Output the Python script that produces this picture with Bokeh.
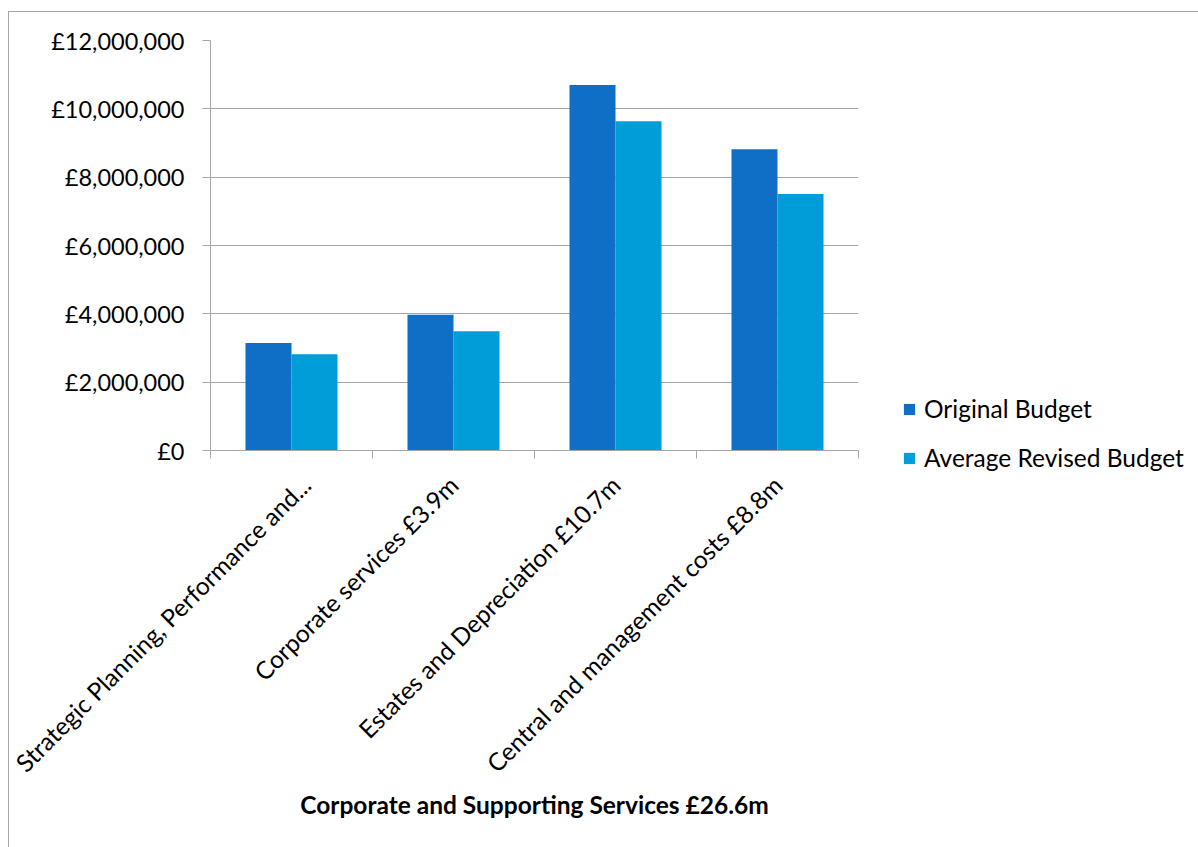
import math
from bokeh.plotting import figure
from bokeh.models import (ColumnDataSource, FixedTicker, CustomJSTickFormatter,
                          Range1d, Legend, LegendItem)
from bokeh.transform import dodge
from bokeh.embed import file_html
from bokeh.resources import INLINE

categories = ["Strategic Planning, Performance and...",
              "Corporate services £3.9m",
              "Estates and Depreciation £10.7m",
              "Central and management costs £8.8m"]
original_budget = [3150000, 3970000, 10700000, 8820000]
average_revised_budget = [2820000, 3490000, 9640000, 7510000]
y_ticks = [0, 2000000, 4000000, 6000000, 8000000, 10000000, 12000000]
series_names = ["Original Budget", "Average Revised Budget"]
series_colors = ["#0F6FC6", "#009DD9"]
x_title = "Corporate and Supporting Services £26.6m"

FONT = "Lato"
GRID = "#a6a6a6"

positions = [i + 0.5 for i in range(len(categories))]
src = ColumnDataSource(dict(x=positions, orig=original_budget, avg=average_revised_budget))

p = figure(frame_width=648, frame_height=410,
           x_range=Range1d(0, len(categories)), y_range=Range1d(0, y_ticks[-1]),
           output_backend="svg", toolbar_location=None,
           min_border_left=201, min_border_right=0,
           min_border_top=28, min_border_bottom=397,
           margin=(11, 0, 0, 8))
p.styles = {"border-left": "1px solid #a6a6a6", "border-top": "1px solid #a6a6a6"}
p.outline_line_color = None
p.background_fill_color = "white"

bw = 0.284
r1 = p.vbar(x=dodge("x", -bw / 2, range=p.x_range), top="orig", width=bw, bottom=0,
            source=src, fill_color=series_colors[0], line_color=None)
r2 = p.vbar(x=dodge("x", bw / 2, range=p.x_range), top="avg", width=bw, bottom=0,
            source=src, fill_color=series_colors[1], line_color=None)

# x axis
xa = p.xaxis[0]
xa.ticker = FixedTicker(ticks=positions, minor_ticks=list(range(len(categories) + 1)))
xa.formatter = CustomJSTickFormatter(args=dict(labels=categories),
                                     code="const s = labels[Math.floor(tick)]; return s === undefined ? '' : s;")
xa.major_tick_out = 0
xa.major_tick_in = 0
xa.minor_tick_out = 8
xa.minor_tick_in = 0
xa.minor_tick_line_color = GRID
xa.axis_line_color = GRID
xa.major_label_orientation = math.pi / 4
xa.major_label_text_font = FONT
xa.major_label_text_font_size = "24.5px"
xa.major_label_text_color = "black"
xa.major_label_standoff = 22
xa.axis_label = x_title
xa.axis_label_text_font = FONT
xa.axis_label_text_font_style = "bold"
xa.axis_label_text_font_size = "24.5px"
xa.axis_label_text_color = "black"
xa.axis_label_standoff = -1

# y axis
ya = p.yaxis[0]
ya.ticker = FixedTicker(ticks=y_ticks)
ya.formatter = CustomJSTickFormatter(
    code="return '£' + String(Math.round(tick)).replace(/\\B(?=(\\d{3})+(?!\\d))/g, ',');")
ya.major_tick_out = 8
ya.major_tick_in = 0
ya.minor_tick_line_color = None
ya.major_tick_line_color = GRID
ya.axis_line_color = GRID
ya.major_label_text_font = FONT
ya.major_label_text_font_size = "23.5px"
ya.major_label_text_color = "black"
ya.major_label_standoff = 18

p.xgrid.visible = False
p.ygrid.ticker = FixedTicker(ticks=y_ticks)
p.ygrid.grid_line_color = GRID
p.ygrid.grid_line_width = 1

legend = Legend(items=[LegendItem(label=series_names[0], renderers=[r1]),
                       LegendItem(label=series_names[1], renderers=[r2])],
                location=(44, -22), orientation="vertical",
                glyph_width=14, glyph_height=14, label_height=28, spacing=20,
                padding=0, margin=0, border_line_color=None, background_fill_alpha=0,
                label_standoff=8, label_text_font=FONT, label_text_font_size="24.5px",
                label_text_color="black")
p.add_layout(legend, "right")

open("out.html", "w").write(file_html(p, INLINE))
